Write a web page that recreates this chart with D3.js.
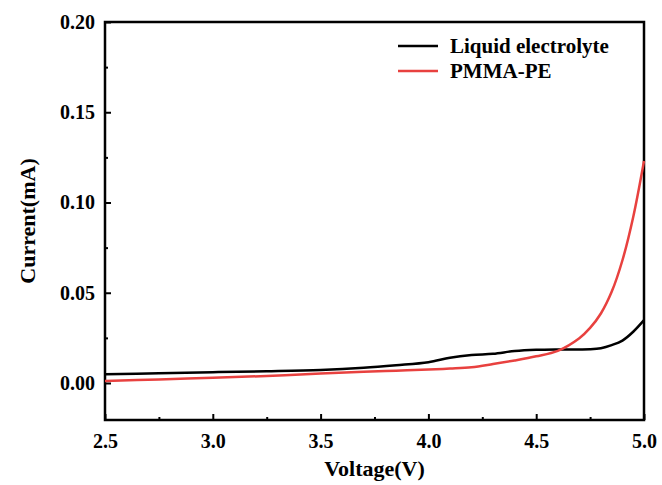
<!DOCTYPE html>
<html>
<head>
<meta charset="utf-8">
<script src="https://cdn.jsdelivr.net/npm/d3@7"></script>
<style>
  body { margin: 0; background: #fff; }
  text { font-family: "Liberation Serif", "Times New Roman", serif; font-weight: bold; fill: #000; }
</style>
</head>
<body>
<div id="container"></div>
<script>
const WIDTH = 662;
const HEIGHT = 485;
const MARGIN = { TOP: 22, LEFT: 105, RIGHT: 18, BOTTOM: 65 };

const voltage = [2.5, 2.75, 3.0, 3.25, 3.5, 3.7, 3.85, 4.0, 4.1, 4.2, 4.3, 4.4, 4.5, 4.6, 4.7, 4.75, 4.8, 4.85, 4.9, 4.95, 5.0];
const liquid  = [0.0048, 0.0054, 0.006, 0.0065, 0.0072, 0.0084, 0.0098, 0.0115, 0.014, 0.0155, 0.0162, 0.0177, 0.0184, 0.0186, 0.0186, 0.0187, 0.0193, 0.021, 0.0235, 0.0284, 0.0348];
const pmma    = [0.0011, 0.002, 0.0029, 0.0039, 0.0053, 0.0062, 0.0068, 0.0075, 0.008, 0.0087, 0.0105, 0.0125, 0.0148, 0.0178, 0.0248, 0.0305, 0.0385, 0.0505, 0.068, 0.092, 0.123];

const seriesNames = ['Liquid electrolyte', 'PMMA-PE'];
const seriesColors = ['#000000', '#e8413f'];

const xTicks = [2.5, 3.0, 3.5, 4.0, 4.5, 5.0];
const xMinor = [2.75, 3.25, 3.75, 4.25, 4.75];
const yTicks = [0.00, 0.05, 0.10, 0.15, 0.20];
const yMinor = [0.025, 0.075, 0.125, 0.175];

const width = WIDTH - MARGIN.LEFT - MARGIN.RIGHT;
const height = 420 - MARGIN.TOP;

const svg = d3.select('#container')
              .append('svg')
                .attr('width', WIDTH)
                .attr('height', HEIGHT);

const g = svg.append('g')
             .attr('transform', `translate(${MARGIN.LEFT}, ${MARGIN.TOP})`);

const xscale = d3.scaleLinear().domain([2.5, 5.0]).range([0, width]);
const yscale = d3.scaleLinear().domain([-0.0205, 0.20]).range([height, 0]);

// major + minor ticks, pointing inward
const xAxis = g.append('g')
               .attr('transform', `translate(0, ${height})`)
               .call(d3.axisBottom(xscale).tickValues(xTicks).tickFormat(d3.format('.1f'))
                       .tickSize(-6).tickPadding(10));
g.append('g')
 .attr('transform', `translate(0, ${height})`)
 .call(d3.axisBottom(xscale).tickValues(xMinor).tickFormat('').tickSize(-3))
 .select('.domain').remove();

const yAxis = g.append('g')
               .call(d3.axisLeft(yscale).tickValues(yTicks).tickFormat(d3.format('.2f'))
                       .tickSize(-6).tickPadding(10));
g.append('g')
 .call(d3.axisLeft(yscale).tickValues(yMinor).tickFormat('').tickSize(-3))
 .select('.domain').remove();

g.selectAll('.tick line').attr('stroke', '#000').attr('stroke-width', 2);
g.selectAll('.domain').remove();
g.selectAll('.tick text').style('font-size', '20px');
xAxis.selectAll('.tick text').attr('dy', '0.9em');

g.append('rect')
 .attr('width', width)
 .attr('height', height)
 .attr('fill', 'none')
 .attr('stroke', '#000')
 .attr('stroke-width', 2.5);

const line = d3.line()
               .x(d => xscale(d[0]))
               .y(d => yscale(d[1]))
               .curve(d3.curveCatmullRom.alpha(0.5));

[liquid, pmma].forEach((vals, i) => {
    g.append('path')
     .datum(voltage.map((v, j) => [v, vals[j]]))
     .attr('d', line)
     .attr('fill', 'none')
     .attr('stroke', seriesColors[i])
     .attr('stroke-width', 2.5);
});

// legend
const legend = g.append('g').attr('transform', `translate(${398 - MARGIN.LEFT}, ${46 - MARGIN.TOP})`);
seriesNames.forEach((name, i) => {
    const row = legend.append('g').attr('transform', `translate(0, ${i * 25})`);
    row.append('line')
       .attr('x1', 0).attr('x2', 40)
       .attr('stroke', seriesColors[i])
       .attr('stroke-width', 2.5);
    row.append('text')
       .attr('x', 52)
       .attr('dy', '0.35em')
       .style('font-size', '21px')
       .text(name);
});

// axis titles
svg.append('text')
   .attr('x', MARGIN.LEFT + width / 2)
   .attr('y', 468)
   .attr('dy', '0.35em')
   .attr('text-anchor', 'middle')
   .style('font-size', '22px')
   .text('Voltage(V)');

svg.append('text')
   .attr('transform', `translate(27, ${MARGIN.TOP + height / 2}) rotate(-90)`)
   .attr('dy', '0.35em')
   .attr('text-anchor', 'middle')
   .style('font-size', '22px')
   .text('Current(mA)');
</script>
</body>
</html>
